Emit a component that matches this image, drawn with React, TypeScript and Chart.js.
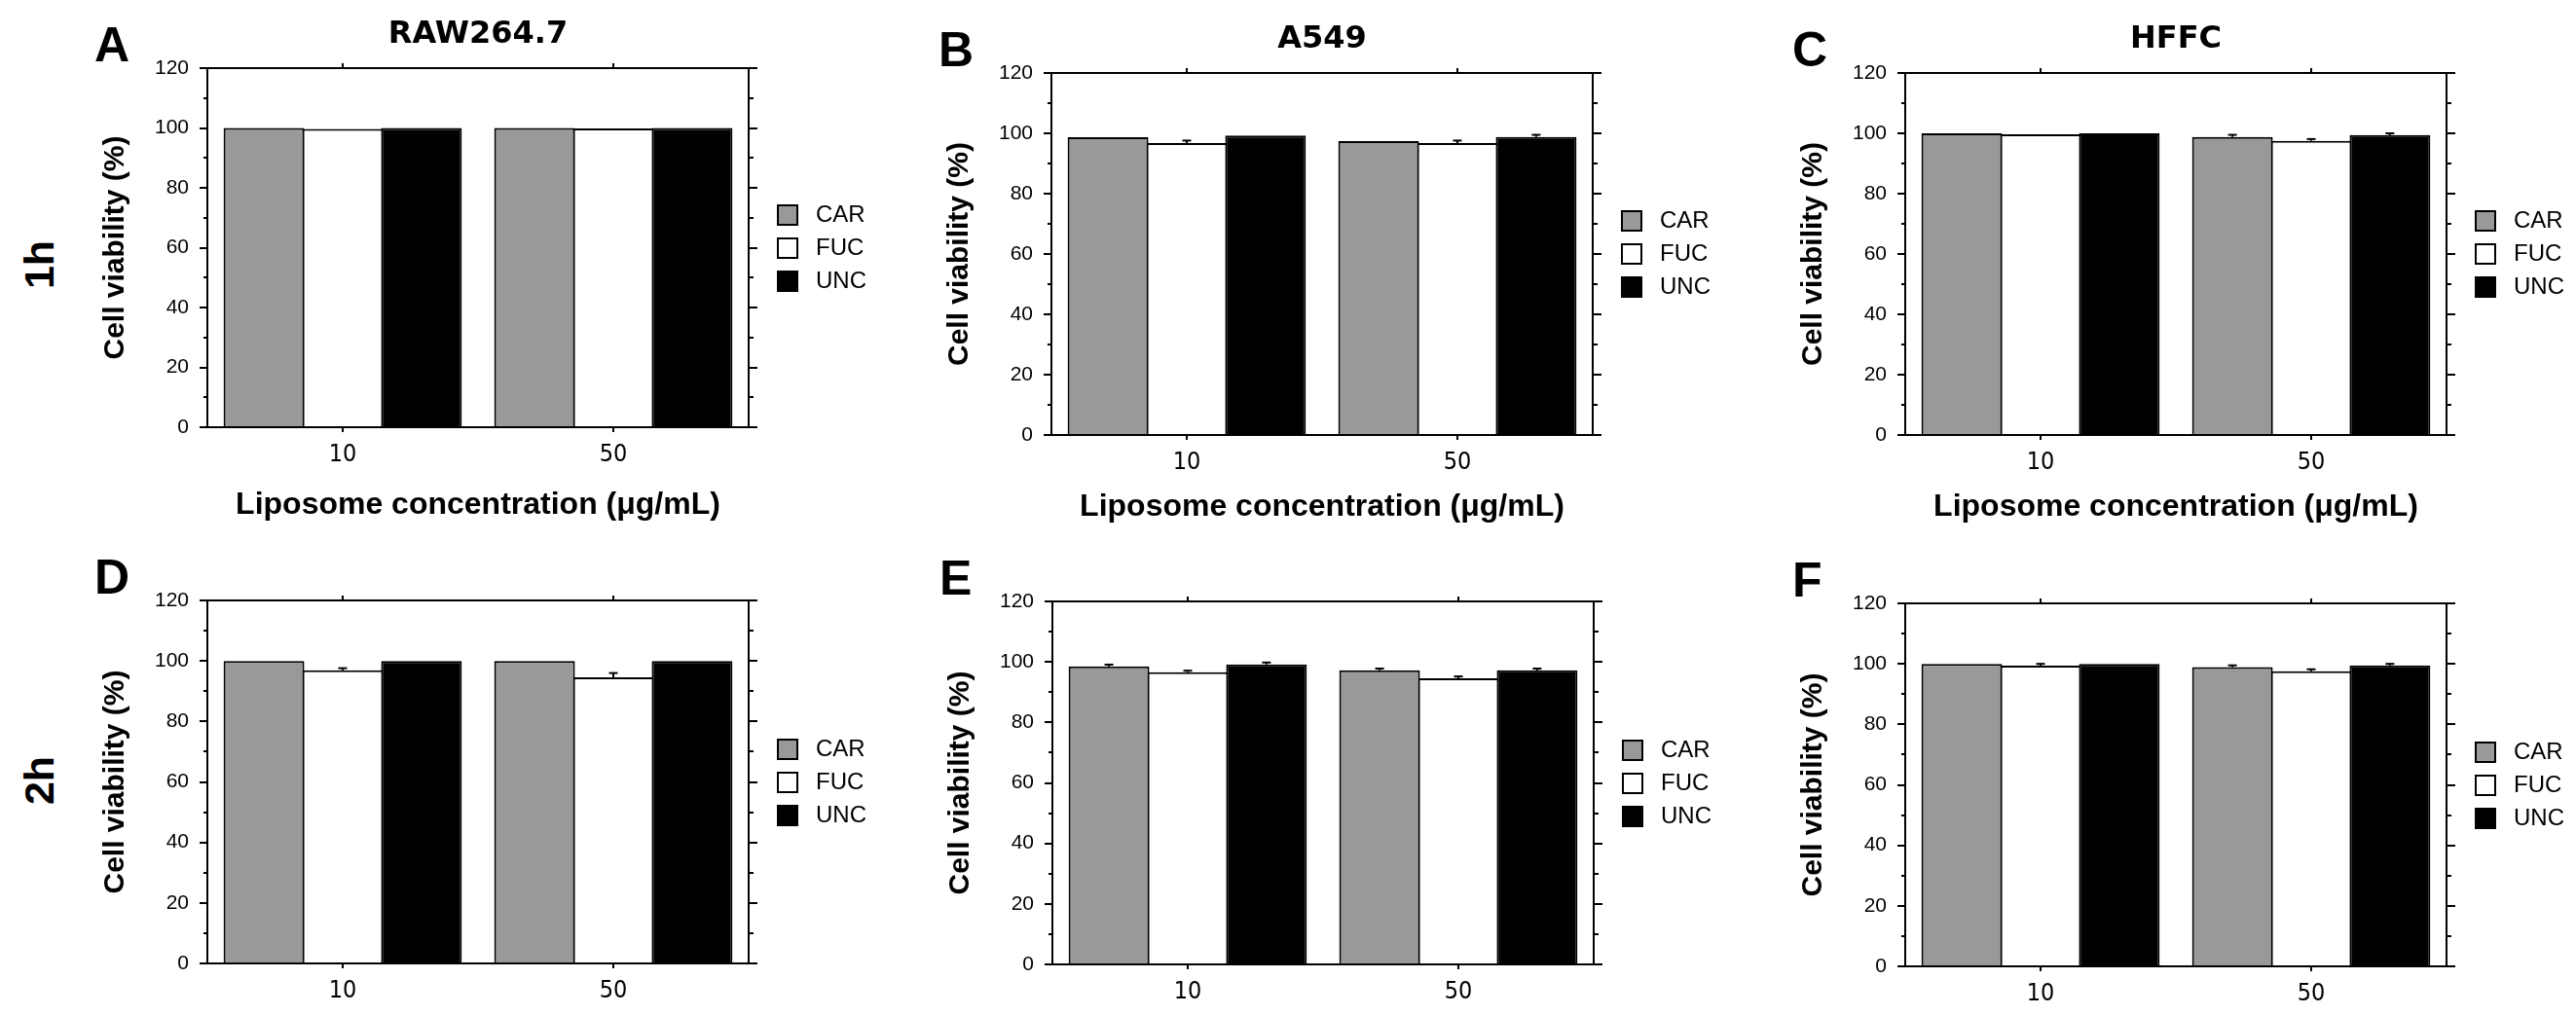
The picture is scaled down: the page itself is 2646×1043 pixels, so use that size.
import React, { useEffect, useRef } from "react";
import { Chart, registerables } from "chart.js";

Chart.register(...registerables);

// Category axis: liposome concentration (µg/mL)
const concentrations = ["10", "50"];
// Formulations shown in every panel
const seriesNames = ["CAR", "FUC", "UNC"];
const seriesColors = ["#999999", "#ffffff", "#000000"];
// Y axis range (%)
const yMin = 0;
const yMax = 120;
const yStep = 20;

// RAW264.7, 1 h
const rawCar1h = [100, 100];
const rawFuc1h = [99.7, 99.8];
const rawUnc1h = [100, 100];
const rawCar1hErr = [0, 0];
const rawFuc1hErr = [0, 0];
const rawUnc1hErr = [0, 0];

// A549, 1 h
const a549Car1h = [98.7, 97.4];
const a549Fuc1h = [96.8, 96.8];
const a549Unc1h = [99.3, 98.8];
const a549Car1hErr = [0, 0];
const a549Fuc1hErr = [0.8, 0.8];
const a549Unc1hErr = [0, 0.7];

// HFFC, 1 h
const hffcCar1h = [100, 98.8];
const hffcFuc1h = [99.7, 97.5];
const hffcUnc1h = [100, 99.4];
const hffcCar1hErr = [0, 0.7];
const hffcFuc1hErr = [0, 0.6];
const hffcUnc1hErr = [0, 0.6];

// RAW264.7, 2 h
const rawCar2h = [100, 100];
const rawFuc2h = [96.9, 94.6];
const rawUnc2h = [100, 100];
const rawCar2hErr = [0, 0];
const rawFuc2hErr = [0.7, 1.4];
const rawUnc2hErr = [0, 0];

// A549, 2 h
const a549Car2h = [98.5, 97.2];
const a549Fuc2h = [96.6, 94.6];
const a549Unc2h = [99.2, 97.2];
const a549Car2hErr = [0.6, 0.6];
const a549Fuc2hErr = [0.5, 0.6];
const a549Unc2hErr = [0.6, 0.6];

// HFFC, 2 h
const hffcCar2h = [100, 98.9];
const hffcFuc2h = [99.4, 97.6];
const hffcUnc2h = [100, 99.5];
const hffcCar2hErr = [0, 0.6];
const hffcFuc2hErr = [0.6, 0.6];
const hffcUnc2hErr = [0, 0.5];

const SANS = "'Liberation Sans', Arial, Helvetica, sans-serif";
const NARROW = "'Liberation Sans Narrow', 'Arial Narrow', 'DejaVu Sans Condensed', sans-serif";
const WIDE = "'DejaVu Sans', Verdana, sans-serif";

// space around each plot box inside its canvas
const PAD_L = 130;
const PAD_R = 150;
const PAD_T = 70;
const PAD_B = 100;
// fixed sizes of the axis boxes (tick labels live there)
const Y_AXIS_W = 100;
const X_AXIS_H = 60;

type PanelSpec = {
  letter: string;
  title: string;
  xTitle: string | null;
  xTitleOffset: number;
  box: { left: number; right: number; top: number; bottom: number };
  means: number[][];
  errors: number[][];
};

const X_TITLE = "Liposome concentration (\u03bcg/mL)";

const panels: PanelSpec[] = [
  {
    letter: "A", title: "RAW264.7", xTitle: X_TITLE, xTitleOffset: 89,
    box: { left: 213, right: 769, top: 70, bottom: 439 },
    means: [rawCar1h, rawFuc1h, rawUnc1h], errors: [rawCar1hErr, rawFuc1hErr, rawUnc1hErr],
  },
  {
    letter: "B", title: "A549", xTitle: X_TITLE, xTitleOffset: 83,
    box: { left: 1080, right: 1636, top: 75, bottom: 447 },
    means: [a549Car1h, a549Fuc1h, a549Unc1h], errors: [a549Car1hErr, a549Fuc1hErr, a549Unc1hErr],
  },
  {
    letter: "C", title: "HFFC", xTitle: X_TITLE, xTitleOffset: 83,
    box: { left: 1957, right: 2513, top: 75, bottom: 447 },
    means: [hffcCar1h, hffcFuc1h, hffcUnc1h], errors: [hffcCar1hErr, hffcFuc1hErr, hffcUnc1hErr],
  },
  {
    letter: "D", title: "", xTitle: null, xTitleOffset: 0,
    box: { left: 213, right: 769, top: 617, bottom: 990 },
    means: [rawCar2h, rawFuc2h, rawUnc2h], errors: [rawCar2hErr, rawFuc2hErr, rawUnc2hErr],
  },
  {
    letter: "E", title: "", xTitle: null, xTitleOffset: 0,
    box: { left: 1081, right: 1637, top: 618, bottom: 991 },
    means: [a549Car2h, a549Fuc2h, a549Unc2h], errors: [a549Car2hErr, a549Fuc2hErr, a549Unc2hErr],
  },
  {
    letter: "F", title: "", xTitle: null, xTitleOffset: 0,
    box: { left: 1957, right: 2513, top: 620, bottom: 993 },
    means: [hffcCar2h, hffcFuc2h, hffcUnc2h], errors: [hffcCar2hErr, hffcFuc2hErr, hffcUnc2hErr],
  },
];

// Draws the boxed frame, tick marks, error caps, legend and texts.
const framePlugin = {
  id: "frame",
  afterDatasetsDraw(chart: any, _args: any, opts: any) {
    const { ctx, chartArea: a, scales } = chart;
    const x = scales.x;
    const y = scales.y;
    const seg = (x1: number, y1: number, x2: number, y2: number) => {
      ctx.beginPath();
      ctx.moveTo(x1, y1);
      ctx.lineTo(x2, y2);
      ctx.stroke();
    };
    ctx.save();
    ctx.strokeStyle = "#000";
    ctx.lineWidth = 2;
    ctx.lineCap = "butt";

    // error bars (upper half)
    chart.data.datasets.forEach((ds: any, di: number) => {
      const meta = chart.getDatasetMeta(di);
      meta.data.forEach((bar: any, j: number) => {
        const e = ds.errors[j];
        if (!e) return;
        const top = y.getPixelForValue(ds.data[j] + e);
        const base = y.getPixelForValue(ds.data[j]);
        seg(bar.x, base, bar.x, top);
        seg(bar.x - 4.5, top, bar.x + 4.5, top);
      });
    });

    // frame
    ctx.strokeRect(a.left, a.top, a.right - a.left, a.bottom - a.top);

    // y ticks: majors at scale ticks, minors halfway between
    const vals = y.ticks.map((t: any) => t.value);
    vals.forEach((v: number, i: number) => {
      const py = Math.round(y.getPixelForValue(v));
      seg(a.left - 8, py, a.left, py);
      seg(a.right, py, a.right + 9, py);
      if (i < vals.length - 1) {
        const pm = Math.round(y.getPixelForValue((v + vals[i + 1]) / 2));
        seg(a.left - 4, pm, a.left, pm);
        seg(a.right, pm, a.right + 5, pm);
      }
    });

    // x ticks at category centres, bottom and top
    x.ticks.forEach((_t: any, i: number) => {
      const px = Math.round(x.getPixelForTick(i));
      seg(px, a.bottom, px, a.bottom + 5);
      seg(px, a.top - 5, px, a.top);
    });

    // legend
    const n = chart.data.datasets.length;
    const step = 34;
    const sq = 22;
    const cy = (a.top + a.bottom) / 2;
    const lx = a.right + 29;
    ctx.font = `24px ${SANS}`;
    ctx.textBaseline = "middle";
    ctx.textAlign = "left";
    chart.data.datasets.forEach((ds: any, i: number) => {
      const yc = Math.round(cy + (i - (n - 1) / 2) * step);
      ctx.fillStyle = ds.backgroundColor;
      ctx.fillRect(lx, yc - sq / 2, sq, sq);
      ctx.strokeRect(lx + 1, yc - sq / 2 + 1, sq - 2, sq - 2);
      ctx.fillStyle = "#000";
      ctx.fillText(ds.label, lx + sq + 18, yc);
    });

    const cx = (a.left + a.right) / 2;
    ctx.fillStyle = "#000";

    // panel title (cell line)
    if (opts.title) {
      ctx.font = `bold 32px ${WIDE}`;
      ctx.textAlign = "center";
      ctx.textBaseline = "alphabetic";
      ctx.fillText(opts.title, cx, a.top - 26);
    }
    // panel letter
    ctx.font = `bold 50px ${SANS}`;
    ctx.textAlign = "left";
    ctx.textBaseline = "alphabetic";
    ctx.fillText(opts.letter, a.left - 116, a.top - 7);

    // x-axis title
    if (opts.xTitle) {
      ctx.font = `bold 32px ${SANS}`;
      ctx.textAlign = "center";
      ctx.fillText(opts.xTitle, cx, a.bottom + opts.xTitleOffset);
    }
    // y-axis title
    ctx.save();
    ctx.translate(a.left - 94, (a.top + a.bottom) / 2);
    ctx.rotate(-Math.PI / 2);
    ctx.font = `bold 30px ${SANS}`;
    ctx.textAlign = "center";
    ctx.textBaseline = "middle";
    ctx.fillText("Cell viability (%)", 0, 0);
    ctx.restore();

    ctx.restore();
  },
};

function buildConfig(p: PanelSpec): any {
  return {
    type: "bar",
    data: {
      labels: concentrations,
      datasets: seriesNames.map((name, i) => ({
        label: name,
        data: p.means[i],
        errors: p.errors[i],
        backgroundColor: seriesColors[i],
        borderColor: "#000000",
        borderWidth: 2,
        borderSkipped: "start",
      })),
    },
    options: {
      responsive: false,
      animation: false,
      devicePixelRatio: 1,
      layout: {
        padding: { left: PAD_L - Y_AXIS_W, right: PAD_R, top: PAD_T, bottom: PAD_B - X_AXIS_H },
      },
      datasets: { bar: { categoryPercentage: 0.873, barPercentage: 1.025 } },
      plugins: {
        legend: { display: false },
        tooltip: { enabled: false },
        title: { display: false },
        frame: { title: p.title, letter: p.letter, xTitle: p.xTitle, xTitleOffset: p.xTitleOffset },
      },
      scales: {
        x: {
          type: "category",
          offset: true,
          grid: { display: false, drawTicks: false },
          border: { display: false },
          ticks: { color: "#000", font: { family: NARROW, size: 25 }, padding: 13, maxRotation: 0 },
          afterFit: (s: any) => { s.height = X_AXIS_H; },
        },
        y: {
          type: "linear",
          min: yMin,
          max: yMax,
          grid: { display: false, drawTicks: false },
          border: { display: false },
          ticks: { stepSize: yStep, color: "#000", font: { family: SANS, size: 21 }, padding: 19 },
          afterFit: (s: any) => { s.width = Y_AXIS_W; },
        },
      },
    },
    plugins: [framePlugin],
  };
}

function Panel({ spec }: { spec: PanelSpec }) {
  const ref = useRef<HTMLCanvasElement | null>(null);
  const w = spec.box.right - spec.box.left + PAD_L + PAD_R;
  const h = spec.box.bottom - spec.box.top + PAD_T + PAD_B;
  useEffect(() => {
    if (!ref.current) return;
    const chart = new Chart(ref.current, buildConfig(spec));
    return () => chart.destroy();
  }, [spec]);
  return (
    <canvas
      ref={ref}
      width={w}
      height={h}
      style={{
        position: "absolute",
        left: spec.box.left - PAD_L,
        top: spec.box.top - PAD_T,
        width: w,
        height: h,
        display: "block",
      }}
    />
  );
}

const rowLabelStyle: React.CSSProperties = {
  position: "absolute",
  transform: "translate(-50%, -50%) rotate(-90deg)",
  font: `bold 43px ${SANS}`,
  lineHeight: 1,
  whiteSpace: "nowrap",
  color: "#000",
};

export default function App() {
  return (
    <div
      style={{
        position: "absolute",
        left: 0,
        top: 0,
        width: 2646,
        height: 1043,
        background: "#ffffff",
        overflow: "hidden",
      }}
    >
      {panels.map((p) => (
        <Panel key={p.letter} spec={p} />
      ))}
      <div style={{ ...rowLabelStyle, left: 40, top: 272 }}>1h</div>
      <div style={{ ...rowLabelStyle, left: 40, top: 802 }}>2h</div>
    </div>
  );
}
